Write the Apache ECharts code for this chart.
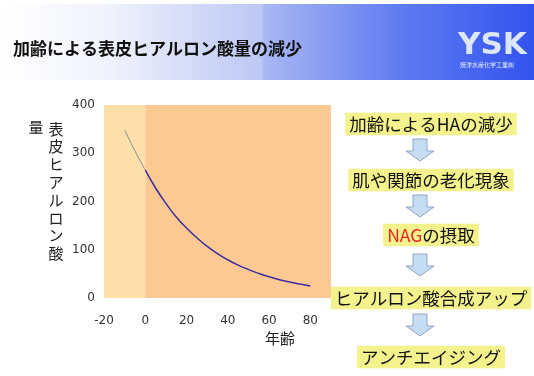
<!DOCTYPE html>
<html>
<head>
<meta charset="utf-8">
<script src="https://cdn.jsdelivr.net/npm/echarts@6/dist/echarts.min.js"></script>
<style>
  html, body { margin: 0; padding: 0; background: #fff; }
  #chart { width: 534px; height: 376px; }
</style>
</head>
<body>
<div id="chart"></div>
<script>
// ages (x) and epidermal hyaluronic acid amount (y)
var agesBefore = [-10, -5, 0];
var valuesBefore = [348, 305, 265];
var ages = [0, 5, 10, 15, 20, 25, 30, 35, 40, 45, 50, 55, 60, 65, 70, 75, 80];
var values = [265, 228, 196, 168, 145, 125, 107, 92, 79, 68, 59, 51, 44, 38, 33, 29, 25];

var yTicks = [0, 100, 200, 300, 400];
var xTicks = [-20, 0, 20, 40, 60, 80];

var titleText = '加齢による表皮ヒアルロン酸量の減少';
var yName = '表皮ヒアルロン酸';
var yName2 = '量';
var xName = '年齢';
var steps = ['加齢によるHAの減少', '肌や関節の老化現象', 'NAGの摂取', 'ヒアルロン酸合成アップ', 'アンチエイジング'];

var jp = '"Noto Sans CJK JP", sans-serif';

function pairs(xs, ys) {
    return xs.map(function (x, i) { return [x, ys[i]]; });
}

var myChart = echarts.init(document.getElementById('chart'));

// flow chart on the right
var stepY = [124, 180, 235, 298, 357];
var arrowTop = [139, 195, 254, 314];
var graphics = [];

// title band
graphics.push({
    type: 'rect', silent: true, z: -10,
    shape: { x: 0, y: 4, width: 534, height: 76 },
    style: {
        fill: new echarts.graphic.LinearGradient(0, 0, 1, 0, [
            { offset: 0, color: '#ffffff' },
            { offset: 0.2, color: '#f1f3fc' },
            { offset: 0.49, color: '#bcc7f4' },
            { offset: 0.495, color: '#a9b7f3' },
            { offset: 0.75, color: '#5f7bf1' },
            { offset: 1, color: '#3253ee' }
        ])
    }
});
graphics.push({
    type: 'text', left: 13, top: 40,
    style: { text: titleText, font: 'bold 17px ' + jp, fill: '#111' }
});
graphics.push({
    type: 'text', left: 458, top: 30,
    style: { text: 'YSK', font: 'bold 31px "DejaVu Sans", sans-serif', fill: '#dce6fb' }
});
graphics.push({
    type: 'text', left: 460, top: 62,
    style: { text: '焼津水産化学工業㈱', font: '6px ' + jp, fill: '#e4ecfc' }
});

// axis names
graphics.push({
    type: 'text', x: 56, y: 120,
    style: { text: yName.split('').join('\n'), font: '15px ' + jp, lineHeight: 17.8, align: 'center', fill: '#222' }
});
graphics.push({
    type: 'text', x: 36, y: 120,
    style: { text: yName2, font: '15px ' + jp, align: 'center', fill: '#222' }
});
graphics.push({
    type: 'text', x: 280, y: 331,
    style: { text: xName, font: '15px ' + jp, align: 'center', fill: '#222' }
});

steps.forEach(function (s, i) {
    var txt = s, rich = {};
    if (s.indexOf('NAG') === 0) {
        txt = '{r|NAG}{k|' + s.slice(3) + '}';
        rich = {
            r: { fill: '#ee2222', font: '17.5px ' + jp },
            k: { fill: '#111', font: '17.5px ' + jp }
        };
    }
    graphics.push({
        type: 'text', x: 431, y: stepY[i],
        style: {
            text: txt, rich: rich, font: '17.5px ' + jp, fill: '#111',
            align: 'center', verticalAlign: 'middle',
            backgroundColor: '#f4f28c', padding: [3, 4, 2, 4]
        }
    });
});

arrowTop.forEach(function (t) {
    graphics.push({
        type: 'polygon', silent: true,
        shape: {
            points: [[413, t], [427, t], [427, t + 12], [434, t + 12], [420, t + 22],
                     [406, t + 12], [413, t + 12]]
        },
        style: { fill: '#c6ddf3', stroke: '#8ea6c6', lineWidth: 1 }
    });
});

var option = {
    backgroundColor: '#ffffff',
    animation: false,
    grid: { left: 104, top: 105, width: 227, height: 193 },
    xAxis: {
        type: 'value', min: -20, max: 90, interval: 20,
        axisLine: { show: false }, axisTick: { show: false }, splitLine: { show: false },
        axisLabel: {
            margin: 17, showMaxLabel: false, color: '#333', fontSize: 12,
            fontFamily: '"DejaVu Sans", sans-serif'
        }
    },
    yAxis: {
        type: 'value', min: 0, max: 400, interval: 100,
        axisLine: { show: false }, axisTick: { show: false }, splitLine: { show: false },
        axisLabel: { margin: 9, color: '#333', fontSize: 12, fontFamily: '"DejaVu Sans", sans-serif' }
    },
    graphic: graphics,
    series: [
        {
            type: 'line', data: pairs(agesBefore, valuesBefore), symbol: 'none', smooth: true,
            lineStyle: { color: '#8d8aa6', width: 1 },
            markArea: {
                silent: true,
                data: [
                    [{ xAxis: -20, yAxis: 0, itemStyle: { color: '#fde0a9' } }, { xAxis: 0, yAxis: 400 }],
                    [{ xAxis: 0, yAxis: 0, itemStyle: { color: '#fcc993' } }, { xAxis: 90, yAxis: 400 }]
                ]
            }
        },
        {
            type: 'line', data: pairs(ages, values), symbol: 'none', smooth: true,
            lineStyle: { color: '#3b2d9e', width: 1.5 }
        }
    ]
};
myChart.setOption(option);
</script>
</body>
</html>
